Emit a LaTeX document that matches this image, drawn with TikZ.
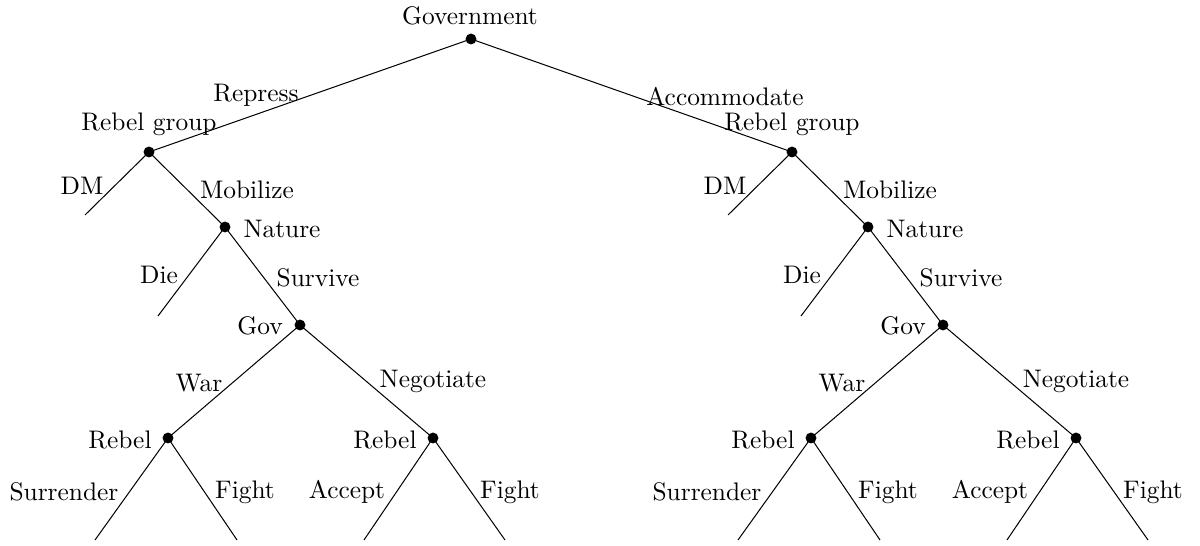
\documentclass[tikz,border=0pt]{standalone}
\begin{document}
\begin{tikzpicture}[x=0.01384cm,y=-0.01384cm,
  dot/.style={circle,fill=black,inner sep=0pt,minimum size=4.3pt},
  lbl/.style={inner sep=0pt,font=\fontsize{10}{12}\selectfont},
  edge/.style={line width=0.4pt}]
\useasboundingbox (0,0) rectangle (1200,546);
% decision nodes
\node[dot] (g) at (471,39) {};
\node[dot] (rL) at (149,152) {};
\node[dot] (rR) at (792,152) {};
\node[dot] (nL) at (225,227) {};
\node[dot] (nR) at (868,227) {};
\node[dot] (gvL) at (300,325) {};
\node[dot] (gvR) at (943,325) {};
\node[dot] (wL) at (168,438) {};
\node[dot] (ngL) at (433,438) {};
\node[dot] (wR) at (811,438) {};
\node[dot] (ngR) at (1076,438) {};
% terminal ends
\coordinate (dmL) at (85,215);
\coordinate (dmR) at (728,215);
\coordinate (dieL) at (158,316);
\coordinate (dieR) at (801,316);
\coordinate (sL) at (95,540);
\coordinate (fL1) at (237,540);
\coordinate (aL) at (364,540);
\coordinate (fL2) at (505,540);
\coordinate (sR) at (738,540);
\coordinate (fR1) at (880,540);
\coordinate (aR) at (1007,540);
\coordinate (fR2) at (1148,540);
% edges
\draw[edge] (g.center) -- (rL.center);
\draw[edge] (g.center) -- (rR.center);
\foreach \r/\d/\n/\di/\gv/\w/\ng/\s/\fa/\a/\fb in {rL/dmL/nL/dieL/gvL/wL/ngL/sL/fL1/aL/fL2, rR/dmR/nR/dieR/gvR/wR/ngR/sR/fR1/aR/fR2}{
  \draw[edge] (\r.center) -- (\d);
  \draw[edge] (\r.center) -- (\n.center);
  \draw[edge] (\n.center) -- (\di);
  \draw[edge] (\n.center) -- (\gv.center);
  \draw[edge] (\gv.center) -- (\w.center);
  \draw[edge] (\gv.center) -- (\ng.center);
  \draw[edge] (\w.center) -- (\s);
  \draw[edge] (\w.center) -- (\fa);
  \draw[edge] (\ng.center) -- (\a);
  \draw[edge] (\ng.center) -- (\fb);
}
% labels
\node[lbl] (tg) at (470,16) {Government};
\node[lbl] (trep) at (256,95) {Repress};
\node[lbl] (tacc) at (725,97) {Accommodate};
\foreach \dx/\s in {0/L,643/R}{
  \node[lbl] (trg\s) at (149+\dx,124) {Rebel group};
  \node[lbl] (tdm\s) at (82+\dx,186) {DM};
  \node[lbl] (tmob\s) at (247+\dx,190) {Mobilize};
  \node[lbl] (tnat\s) at (282+\dx,229) {Nature};
  \node[lbl] (tdie\s) at (159+\dx,275) {Die};
  \node[lbl] (tsur\s) at (318+\dx,278) {Survive};
  \node[lbl] (tgov\s) at (260+\dx,326) {Gov};
  \node[lbl] (twar\s) at (199+\dx,383) {War};
  \node[lbl] (tneg\s) at (433+\dx,381) {Negotiate};
  \node[lbl] (treb\s) at (120+\dx,440) {Rebel};
  \node[lbl] (trebb\s) at (385+\dx,440) {Rebel};
  \node[lbl] (tsurr\s) at (64+\dx,492) {Surrender};
  \node[lbl] (tfa\s) at (245+\dx,492) {Fight};
  \node[lbl] (tacp\s) at (347+\dx,492) {Accept};
  \node[lbl] (tfb\s) at (510+\dx,492) {Fight};
}
\end{tikzpicture}
\end{document}
